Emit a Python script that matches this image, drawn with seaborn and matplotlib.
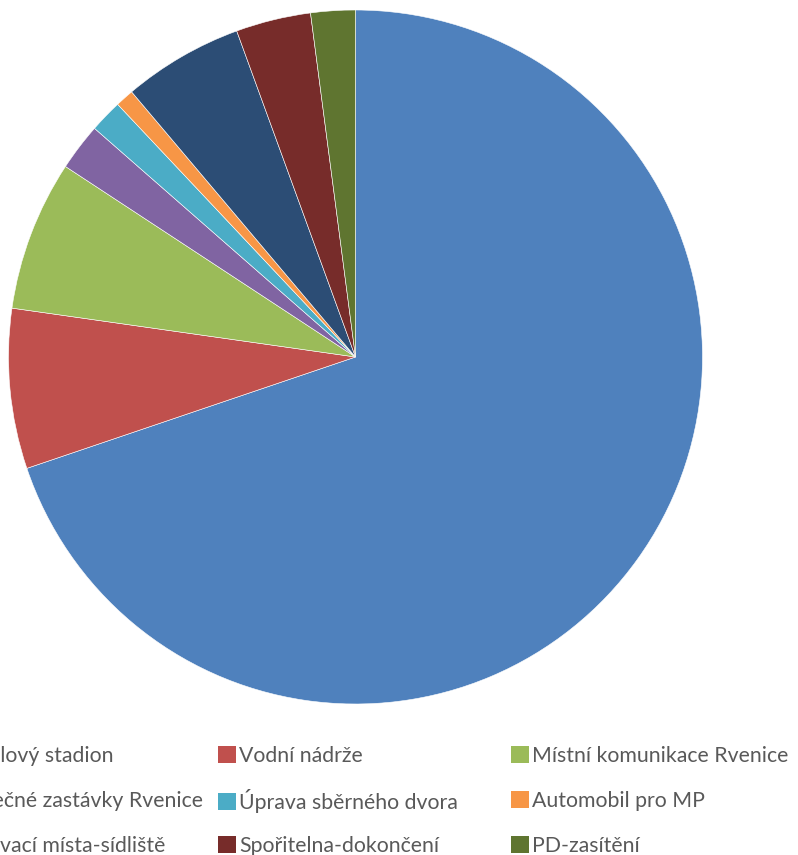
import matplotlib
matplotlib.use("Agg")
import matplotlib.pyplot as plt
import seaborn as sns
from matplotlib.patches import Patch

# slice order, clockwise from 12 o'clock
labels = ["Fotbalový stadion", "Vodní nádrže", "Místní komunikace Rvenice",
          "Bezpečné zastávky Rvenice", "Úprava sběrného dvora", "Automobil pro MP",
          "Parkovací místa-sídliště", "Spořitelna-dokončení", "PD-zasítění"]
values = [69.8, 7.45, 7.0, 2.2, 1.53, 0.86, 5.6, 3.49, 2.07]
colors = ["#4F81BD", "#C0504D", "#9BBB59", "#8064A2", "#4BACC6",
          "#F79646", "#2C4D75", "#772C2A", "#5F7530"]

sns.set_style("white")
plt.rcParams["font.family"] = ["Lato", "DejaVu Sans"]

W, H = 798, 855
fig = plt.figure(figsize=(W / 100, H / 100), dpi=100)

cx, cy, r = 355.5, 357, 347
ax = fig.add_axes([(cx - r) / W, (H - cy - r) / H, 2 * r / W, 2 * r / H])
ax.pie(values, colors=colors, startangle=90, counterclock=False, radius=1,
       wedgeprops=dict(edgecolor="white", linewidth=0.4))
ax.set_xlim(-1, 1)
ax.set_ylim(-1, 1)
ax.set_aspect("equal")
ax.axis("off")

# Excel-like legend: three equal-width columns, filled row by row
col_x = [-75, 218, 511]
row_y = [756, 801, 846]
for i, (lab, c) in enumerate(zip(labels, colors)):
    x0 = col_x[i % 3]
    y0 = row_y[i // 3]
    fig.legend([Patch(facecolor=c, edgecolor="none")], [lab],
               loc="center left", bbox_to_anchor=(x0 / W, 1 - y0 / H),
               frameon=False, fontsize=15.3, labelcolor="#595959",
               handlelength=0.85, handleheight=0.85, handletextpad=0.15,
               borderpad=0, borderaxespad=0)

fig.savefig("out.png", dpi=100)
